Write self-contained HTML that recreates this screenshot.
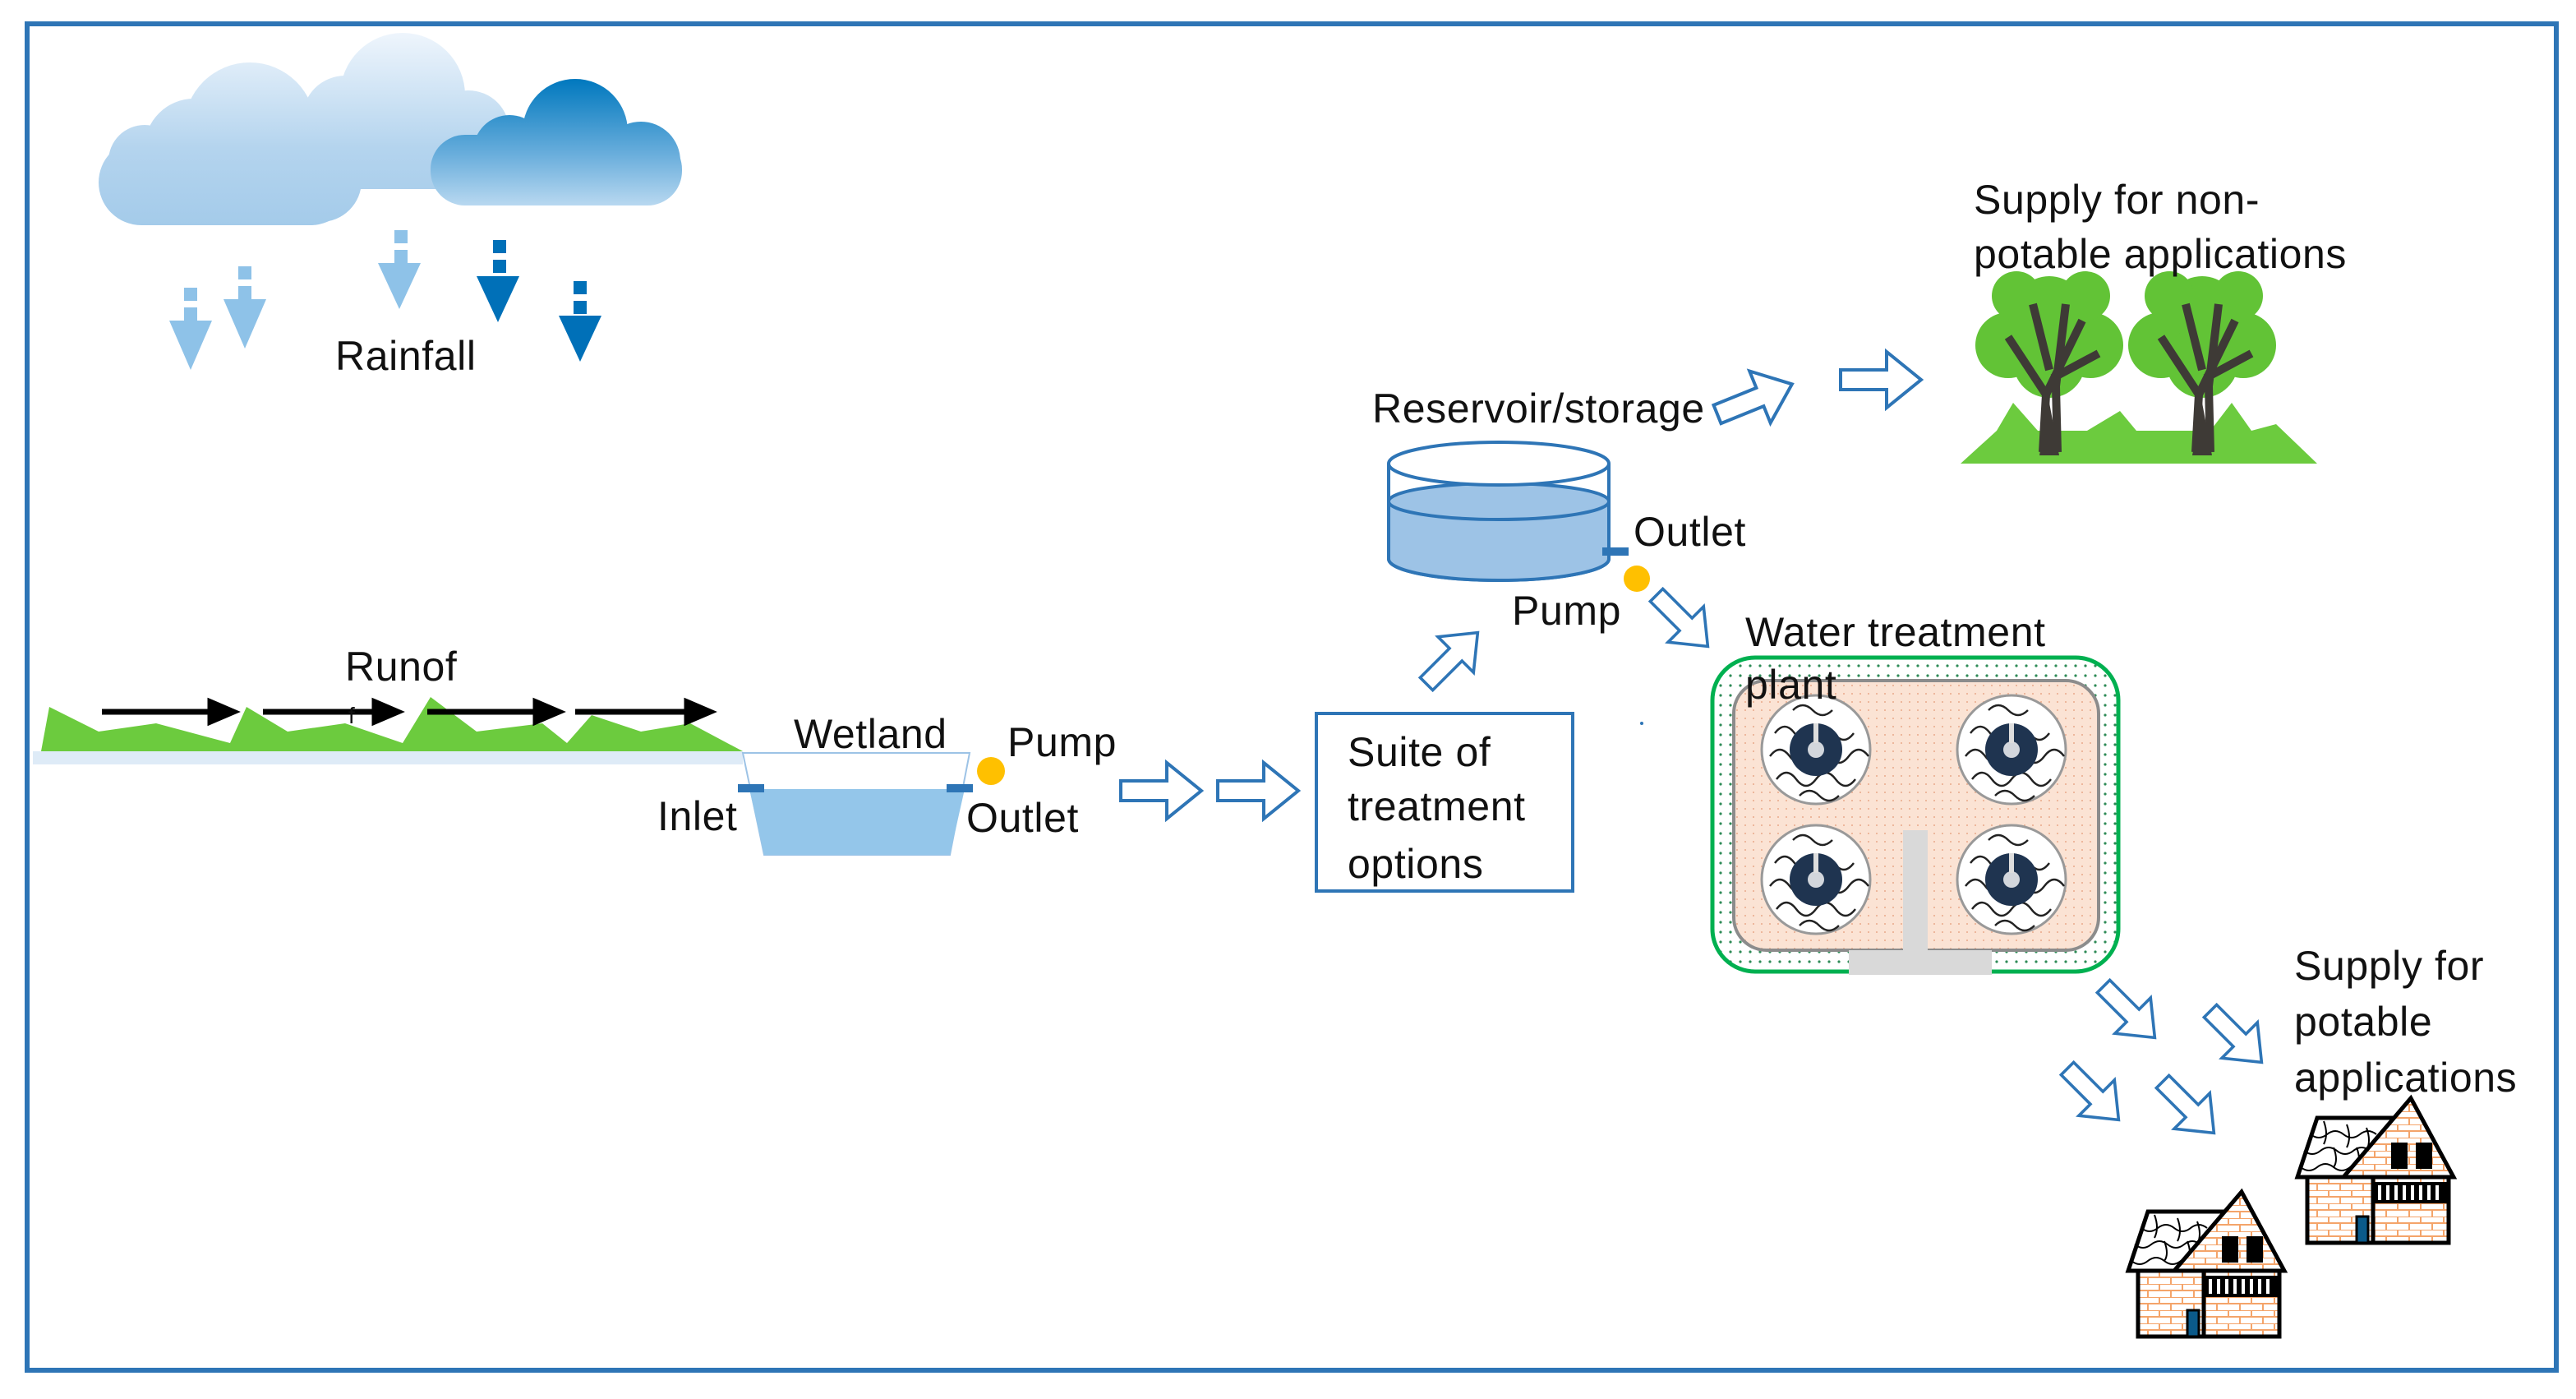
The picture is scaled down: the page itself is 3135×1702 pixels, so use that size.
<!DOCTYPE html>
<html><head><meta charset="utf-8"><style>
html,body{margin:0;padding:0;background:#fff;}
svg{display:block;}
text{font-family:"Liberation Sans","DejaVu Sans",sans-serif;font-size:25px;letter-spacing:0.3px;fill:#111;}
</style></head><body>
<svg width="3135" height="1702" viewBox="0 0 1567.5 851" xmlns="http://www.w3.org/2000/svg">
<defs>
<linearGradient id="cl" gradientUnits="userSpaceOnUse" x1="0" y1="20" x2="0" y2="137">
<stop offset="0" stop-color="#EEF5FC"/><stop offset="0.6" stop-color="#B4D4EE"/><stop offset="1" stop-color="#A4CBEA"/></linearGradient>
<linearGradient id="cd" gradientUnits="userSpaceOnUse" x1="0" y1="48" x2="0" y2="125">
<stop offset="0" stop-color="#0078BE"/><stop offset="0.6" stop-color="#6AAEDC"/><stop offset="1" stop-color="#B8D8F0"/></linearGradient>
<pattern id="dots" width="6" height="6" patternUnits="userSpaceOnUse"><rect width="6" height="6" fill="#fff"/><circle cx="3" cy="3" r="0.8" fill="#2e8b57"/></pattern>
<pattern id="pk" width="5" height="5" patternUnits="userSpaceOnUse"><rect width="5" height="5" fill="#FBE3D4"/><circle cx="2" cy="2" r="0.5" fill="#E9A98A"/></pattern>
<pattern id="brick" width="14" height="8" patternUnits="userSpaceOnUse"><rect width="14" height="8" fill="#fff"/><path d="M0 0H14M0 4H14M3 0V4M10 4V8" stroke="#F4A46A" stroke-width="1"/></pattern>
<g id="barrow"><polygon points="0,-6 28,-6 28,-17 49,0 28,17 28,6 0,6" fill="#fff" stroke="#2E75B6" stroke-width="2"/></g>
<g id="house">
<rect x="4" y="48" width="86" height="40" fill="url(#brick)" stroke="#000" stroke-width="2.5"/>
<polygon points="-2,48 10,12 58,12 46,48" fill="#fff" stroke="#000" stroke-width="2.5"/>
<path d="M6 22q5 4 10 0t10 0t10 0t10 0M2 32q5 4 10 0t10 0t10 0t10 0M0 42q5 4 10 0t10 0t10 0t10 0M14 14q3 8 0 14M28 16q3 8 0 14M40 18q3 8 0 14M20 30q3 8 0 12M34 30q3 8 0 12" fill="none" stroke="#000" stroke-width="1"/>
<polygon points="26,48 67,0 93,48" fill="url(#brick)" stroke="#000" stroke-width="2.5"/>
<rect x="55" y="27" width="10" height="16" fill="#000"/><rect x="70" y="27" width="10" height="16" fill="#000"/>
<rect x="44" y="51" width="46" height="13" fill="#000"/>
<path d="M48 53v9M53 53v9M58 53v9M63 53v9M68 53v9M73 53v9M78 53v9M83 53v9" stroke="#fff" stroke-width="2"/>
<line x1="44" y1="48" x2="44" y2="88" stroke="#000" stroke-width="2.5"/>
<rect x="34" y="72" width="7" height="16" fill="#0B5A8A" stroke="#000" stroke-width="1.5"/>
</g>
<g id="clar"><circle r="33" fill="#fff" stroke="#999" stroke-width="1.5"/>
<path d="M-25,-10q6,-8 12,0t12,0t12,0t12,0M-28,4q6,-8 12,0t12,0t12,0t12,0t12,0M-24,18q6,-8 12,0t12,0t12,0t12,0M-14,-24q6,-6 12,0t12,0M-10,28q6,-6 12,0t12,0" fill="none" stroke="#222" stroke-width="1.2"/>
<circle r="16" fill="#1F3450"/><circle r="5" fill="#fff" fill-opacity="0.8"/><rect x="-1.5" y="-16" width="3" height="12" fill="#ddd"/></g>
<g id="tree">
<circle cx="0" cy="-45" r="22" fill="#62C336"/><circle cx="-25" cy="-25" r="20" fill="#62C336"/><circle cx="25" cy="-25" r="20" fill="#62C336"/><circle cx="-20" cy="-55" r="15" fill="#62C336"/><circle cx="22" cy="-55" r="15" fill="#62C336"/><circle cx="0" cy="-15" r="22" fill="#62C336"/>
<path d="M-4 40L-2 5L-25 -30M-2 5L20 -40M0 -10L-10 -50M2 -5L30 -20M5 40L4 0L10 -50" stroke="#3E3A36" stroke-width="5" fill="none"/>
<path d="M-6 42L0 10L6 42Z" fill="#3E3A36"/>
</g>
</defs>

<rect x="16.5" y="14.5" width="1539" height="819" fill="#fff" stroke="#2E75B6" stroke-width="3"/>

<g fill="url(#cl)">
<rect x="60" y="85" width="155" height="52" rx="26"/><circle cx="152" cy="78" r="40"/><circle cx="118" cy="90" r="30"/><circle cx="88" cy="98" r="22"/><circle cx="195" cy="110" r="25"/>
<rect x="167" y="65" width="138" height="50" rx="25"/><circle cx="245" cy="58" r="38"/><circle cx="210" cy="72" r="26"/><circle cx="285" cy="80" r="25"/>
</g>
<g fill="url(#cd)">
<rect x="262" y="82" width="153" height="43" rx="21"/><circle cx="350" cy="80" r="32"/><circle cx="310" cy="92" r="22"/><circle cx="390" cy="98" r="24"/>
</g>
<g fill="#8EC2E8">
<rect x="112" y="175" width="8" height="8"/><rect x="112" y="187" width="8" height="8"/><polygon points="103,195 129,195 116,225"/>
<rect x="145" y="162" width="8" height="8"/><rect x="145" y="174" width="8" height="8"/><polygon points="136,182 162,182 149,212"/>
<rect x="240" y="140" width="8" height="8"/><rect x="240" y="152" width="8" height="8"/><polygon points="230,160 256,160 243,188"/>
</g>
<g fill="#0070B8">
<rect x="300" y="146" width="8" height="8"/><rect x="300" y="158" width="8" height="8"/><polygon points="290,168 316,168 303,196"/>
<rect x="349" y="171" width="8" height="8"/><rect x="349" y="183" width="8" height="8"/><polygon points="340,192 366,192 353,220"/>
</g>
<text x="204" y="225">Rainfall</text>

<rect x="20" y="457" width="432" height="8" fill="#DEEBF7"/>
<polygon points="25,457 30,430 60,445 95,440 140,452 150,430 175,445 210,440 245,452 262,424 290,445 330,440 345,452 360,435 390,445 420,440 452,457" fill="#6CCB3E"/>
<g stroke="#000" stroke-width="3.5" fill="#000">
<line x1="62" y1="433" x2="130" y2="433"/><polygon points="128,427 142,433 128,439"/>
<line x1="160" y1="433" x2="230" y2="433"/><polygon points="228,427 242,433 228,439"/>
<line x1="260" y1="433" x2="328" y2="433"/><polygon points="326,427 340,433 326,439"/>
<line x1="350" y1="433" x2="420" y2="433"/><polygon points="418,427 432,433 418,439"/>
</g>
<text x="210" y="414">Runof</text>
<text x="212" y="440" style="font-size:14px">f</text>

<polygon points="452,458 590,458 578,520 465,520" fill="#fff" stroke="#9DC3E6" stroke-width="1"/>
<polygon points="456,480 587,480 578,520 465,520" fill="#94C6EA"/>
<rect x="449" y="477" width="16" height="5" fill="#2E75B6"/>
<rect x="576" y="477" width="16" height="5" fill="#2E75B6"/>
<circle cx="603" cy="469" r="8.5" fill="#FFC000"/>
<text x="483" y="455">Wetland</text>
<text x="613" y="460">Pump</text>
<text x="400" y="505">Inlet</text>
<text x="588" y="506">Outlet</text>

<use href="#barrow" transform="translate(682,481)"/>
<use href="#barrow" transform="translate(741,481)"/>

<rect x="801" y="434" width="156" height="108" fill="#fff" stroke="#2E75B6" stroke-width="2"/>
<text x="820" y="466">Suite of</text>
<text x="820" y="499">treatment</text>
<text x="820" y="534">options</text>

<use href="#barrow" transform="translate(868,416) rotate(-45) scale(0.9)"/>
<text x="920" y="380">Pump</text>
<circle cx="996" cy="352" r="8" fill="#FFC000"/>

<path d="M845 282V340A67 13 0 0 0 979 340V282" fill="#fff" stroke="#2E75B6" stroke-width="2"/>
<path d="M845 305V340A67 13 0 0 0 979 340V305Z" fill="#9DC3E6" stroke="#2E75B6" stroke-width="2"/>
<ellipse cx="912" cy="305" rx="67" ry="11" fill="#9DC3E6" stroke="#2E75B6" stroke-width="2"/>
<ellipse cx="912" cy="282" rx="67" ry="13" fill="#fff" stroke="#2E75B6" stroke-width="2"/>
<rect x="975" y="333" width="16" height="5" fill="#2E75B6"/>
<text x="835" y="257">Reservoir/storage</text>
<text x="994" y="332">Outlet</text>

<use href="#barrow" transform="translate(1045,252) rotate(-22) scale(1)"/>
<use href="#barrow" transform="translate(1120,231)"/>
<use href="#barrow" transform="translate(1008,362) rotate(45) scale(0.9)"/>

<polygon points="1193,282 1410,282 1385,258 1370,262 1358,245 1345,262 1300,262 1290,250 1270,262 1240,262 1225,245 1215,262" fill="#6CCB3E"/>
<use href="#tree" transform="translate(1247,235)"/>
<use href="#tree" transform="translate(1340,235)"/>
<text x="1201" y="130">Supply for non-</text>
<text x="1201" y="163">potable applications</text>

<rect x="1042" y="400" width="247" height="191" rx="26" fill="url(#dots)" stroke="#00B050" stroke-width="2.5"/>
<rect x="1055" y="414" width="222" height="164" rx="20" fill="url(#pk)" stroke="#8c8c8c" stroke-width="2"/>
<use href="#clar" transform="translate(1105,456)"/>
<use href="#clar" transform="translate(1224,456)"/>
<use href="#clar" transform="translate(1105,535)"/>
<use href="#clar" transform="translate(1224,535)"/>
<rect x="1158" y="505" width="15" height="80" fill="#D9D9D9"/>
<rect x="1125" y="578" width="87" height="15" fill="#D9D9D9"/>
<text x="1062" y="393">Water treatment</text>
<text x="1062" y="425">plant</text>
<circle cx="999" cy="440" r="1" fill="#2E75B6"/>

<use href="#barrow" transform="translate(1280,600) rotate(45) scale(0.9)"/>
<use href="#barrow" transform="translate(1345,615) rotate(45) scale(0.9)"/>
<use href="#barrow" transform="translate(1258,650) rotate(45) scale(0.9)"/>
<use href="#barrow" transform="translate(1316,658) rotate(45) scale(0.9)"/>

<text x="1396" y="596">Supply for</text>
<text x="1396" y="630">potable</text>
<text x="1396" y="664">applications</text>

<use href="#house" transform="translate(1400,668)"/>
<use href="#house" transform="translate(1297,725)"/>
</svg>
</body></html>
